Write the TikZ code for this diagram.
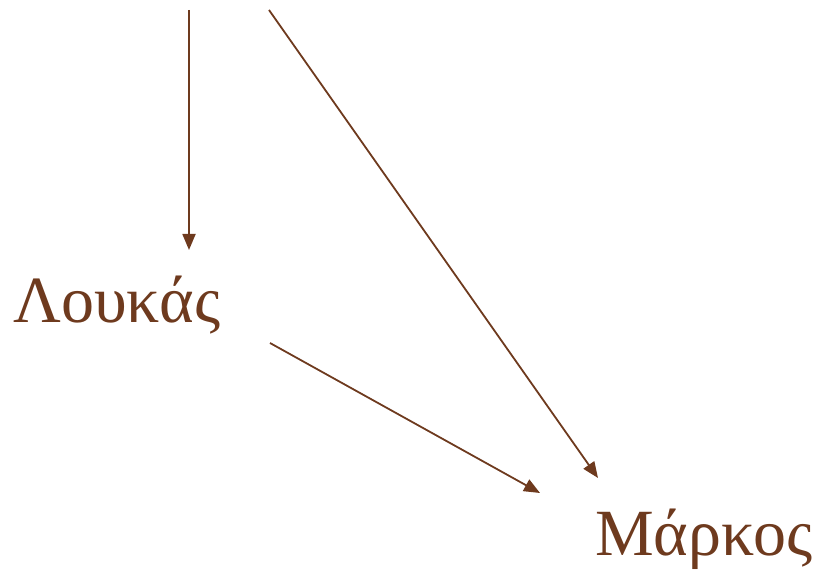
\documentclass[tikz,border=0pt]{standalone}
\usepackage{fontspec}
\setmainfont{Liberation Serif}
\usetikzlibrary{arrows.meta}
\definecolor{brn}{RGB}{110,58,30}
\tikzset{
  lbl/.style={text=brn, font=\fontsize{66}{72}\selectfont, inner sep=0pt, anchor=base west},
  arr/.style={draw=brn, line width=1.8pt, -{Triangle[length=16pt,width=13pt]}}
}
\begin{document}
\begin{tikzpicture}[x=1pt,y=1pt]
\useasboundingbox (0,0) rectangle (819,573);
\node[lbl] (luk) at (13,250) {Λουκάς};
\node[lbl] (mar) at (595,18) {Μάρκος};
\coordinate (t1) at (189,563);
\coordinate (t2) at (269,563);
\draw[arr] (t1) -- ([yshift=73pt]luk.base -| t1);
\draw[arr] (t2) -- ([shift={(3pt,77pt)}]mar.base west);
\draw[arr] ([shift={(257pt,-20pt)}]luk.base west) -- ([shift={(-55pt,62pt)}]mar.base west);
\end{tikzpicture}
\end{document}
